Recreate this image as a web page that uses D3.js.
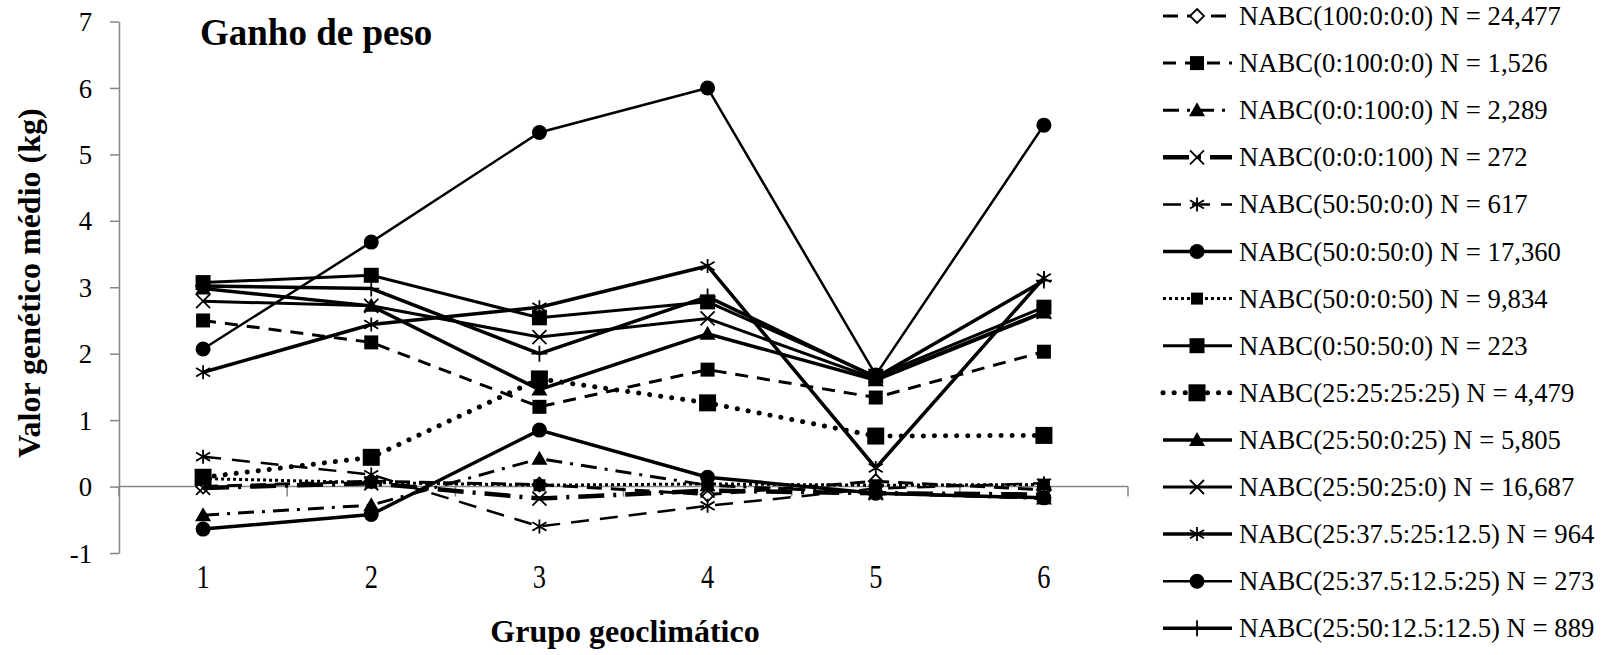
<!DOCTYPE html>
<html>
<head>
<meta charset="utf-8">
<script src="https://cdn.jsdelivr.net/npm/d3@7"></script>
<style>
  body { margin: 0; background: #fff; }
  svg text { font-family: "Liberation Serif", "Times New Roman", serif !important; fill: #000; }
</style>
</head>
<body>
<div id="container"></div>
<script>
// categories (grupo geoclimático)
const categories = ['1', '2', '3', '4', '5', '6'];
const yTicks = [-1, 0, 1, 2, 3, 4, 5, 6, 7];

const seriesNames = [
  'NABC(100:0:0:0) N = 24,477',
  'NABC(0:100:0:0) N = 1,526',
  'NABC(0:0:100:0) N = 2,289',
  'NABC(0:0:0:100) N = 272',
  'NABC(50:50:0:0) N = 617',
  'NABC(50:0:50:0) N = 17,360',
  'NABC(50:0:0:50) N = 9,834',
  'NABC(0:50:50:0) N = 223',
  'NABC(25:25:25:25) N = 4,479',
  'NABC(25:50:0:25) N = 5,805',
  'NABC(25:50:25:0) N = 16,687',
  'NABC(25:37.5:25:12.5) N = 964',
  'NABC(25:37.5:12.5:25) N = 273',
  'NABC(25:50:12.5:12.5) N = 889'
];

const v100_0_0_0 = [0.0, 0.08, 0.03, -0.12, 0.08, -0.05];
const v0_100_0_0 = [2.5, 2.17, 1.2, 1.76, 1.34, 2.03];
const v0_0_100_0 = [-0.43, -0.28, 0.42, 0.02, -0.1, -0.18];
const v0_0_0_100 = [-0.02, 0.05, -0.18, -0.06, -0.1, -0.12];
const v50_50_0_0 = [0.45, 0.18, -0.6, -0.29, -0.03, 0.05];
const v50_0_50_0 = [-0.64, -0.42, 0.85, 0.14, -0.1, -0.17];
const v50_0_0_50 = [0.12, 0.06, 0.02, 0.04, 0.02, 0.03];
const v0_50_50_0 = [3.07, 3.18, 2.54, 2.78, 1.66, 2.7];
const v25_25_25_25 = [0.14, 0.44, 1.62, 1.26, 0.76, 0.77];
const v25_50_0_25 = [2.98, 2.72, 1.46, 2.3, 1.6, 2.62];
const v25_50_25_0 = [2.79, 2.72, 2.25, 2.53, 1.62, 2.63];
const v25_375_25_125 = [1.72, 2.44, 2.7, 3.32, 0.28, 3.14];
const v25_375_125_25 = [2.07, 3.68, 5.33, 6.0, 1.68, 5.44];
const v25_50_125_125 = [3.02, 2.98, 2.0, 2.86, 1.64, 3.1];

const seriesValues = [
  v100_0_0_0, v0_100_0_0, v0_0_100_0, v0_0_0_100, v50_50_0_0, v50_0_50_0, v50_0_0_50,
  v0_50_50_0, v25_25_25_25, v25_50_0_25, v25_50_25_0, v25_375_25_125, v25_375_125_25, v25_50_125_125
];

// line / marker look of each series (same order)
const styles = [
  { dash: '15,9', w: 3, marker: 'diamond', s: 7, cap: 'butt' },
  { dash: '13,9', w: 3, marker: 'square', s: 7, cap: 'butt' },
  { dash: '16,8,3,8', w: 3, marker: 'triangle', s: 8, cap: 'butt' },
  { dash: '26,9,3,9', w: 4.5, marker: 'x', s: 7, cap: 'butt' },
  { dash: '18,11', w: 2.5, marker: 'asterisk', s: 7, cap: 'butt' },
  { dash: null, w: 3.5, marker: 'circle', s: 7.5, cap: 'butt' },
  { dash: '3,3', w: 3, marker: 'square', s: 6, cap: 'butt' },
  { dash: null, w: 3, marker: 'square', s: 7.5, cap: 'butt' },
  { dash: '0.1,11', w: 5, marker: 'square', s: 8.5, cap: 'round' },
  { dash: null, w: 3.5, marker: 'triangle', s: 8, cap: 'butt' },
  { dash: null, w: 3, marker: 'x', s: 7, cap: 'butt' },
  { dash: null, w: 3.5, marker: 'asterisk', s: 7, cap: 'butt' },
  { dash: null, w: 2.5, marker: 'circle', s: 7.5, cap: 'butt' },
  { dash: null, w: 3.5, marker: 'plus', s: 8, cap: 'butt' }
];

const width = 1606;
const height = 655;
const axisColor = '#868686';
const serif = '"Liberation Serif", "Times New Roman", serif';

const svg = d3.select('#container')
              .append('svg')
              .attr('width', width)
              .attr('height', height)
              .style('font-family', serif);

const x = d3.scaleBand()
            .domain(categories)
            .range([119, 1128]);
const y = d3.scaleLinear()
            .domain([-1, 7])
            .range([553, 21.5]);
const cx = c => x(c) + x.bandwidth() / 2;

// y axis
const yAxis = svg.append('g')
                 .attr('transform', 'translate(119,0)')
                 .call(d3.axisLeft(y).tickValues(yTicks).tickFormat(d => String(d))
                         .tickSize(9).tickSizeOuter(0).tickPadding(18));
yAxis.attr('font-family', null);
yAxis.select('.domain').attr('stroke', axisColor).attr('stroke-width', 1.5);
yAxis.selectAll('.tick line').attr('stroke', axisColor).attr('stroke-width', 1.5);
yAxis.selectAll('.tick text')
     .style('font-family', serif)
     .style('font-size', '26.7px')
     .attr('dy', '0.34em');

// x axis at zero, ticks between categories
svg.append('line')
   .attr('x1', x.range()[0]).attr('x2', x.range()[1])
   .attr('y1', y(0)).attr('y2', y(0))
   .attr('stroke', axisColor).attr('stroke-width', 1.5);
const edges = categories.map(c => x(c)).concat([x.range()[1]]);
svg.selectAll('.xtick')
   .data(edges)
   .enter()
   .append('line')
   .attr('class', 'xtick')
   .attr('x1', d => d).attr('x2', d => d)
   .attr('y1', y(0)).attr('y2', y(0) + 10)
   .attr('stroke', axisColor).attr('stroke-width', 1.5);

svg.selectAll('.xlabel')
   .data(categories)
   .enter()
   .append('text')
   .attr('class', 'xlabel')
   .attr('transform', d => 'translate(' + cx(d) + ',588) scale(0.8,1)')
   .attr('text-anchor', 'middle')
   .style('font-size', '33px')
   .text(d => d);

// titles
svg.append('text')
   .attr('x', 200).attr('y', 45)
   .style('font-size', '37px')
   .style('font-weight', 'bold')
   .text('Ganho de peso');

svg.append('text')
   .attr('transform', 'translate(625,642)')
   .attr('text-anchor', 'middle')
   .style('font-size', '32px')
   .style('font-weight', 'bold')
   .text('Grupo geoclimático');

svg.append('text')
   .attr('transform', 'translate(40,283) rotate(-90)')
   .attr('text-anchor', 'middle')
   .style('font-size', '32px')
   .style('font-weight', 'bold')
   .text('Valor genético médio (kg)');

function markerPath(type, s) {
  switch (type) {
    case 'square':
      return `M${-s},${-s}H${s}V${s}H${-s}Z`;
    case 'circle':
      return `M${s},0A${s},${s} 0 1,1 ${-s},0A${s},${s} 0 1,1 ${s},0Z`;
    case 'triangle':
      return `M0,${-s}L${s},${s * 0.75}L${-s},${s * 0.75}Z`;
    case 'diamond':
      return `M0,${-s}L${s},0L0,${s}L${-s},0Z`;
    case 'x':
      return `M${-s},${-s}L${s},${s}M${s},${-s}L${-s},${s}`;
    case 'plus':
      return `M0,${-s}V${s}M${-s},0H${s}`;
    case 'asterisk':
      return `M${-s},${-s * 0.6}L${s},${s * 0.6}M${s},${-s * 0.6}L${-s},${s * 0.6}M0,${-s}V${s}`;
  }
}
const filled = t => t === 'square' || t === 'circle' || t === 'triangle';

function drawMarker(g, type, s, px, py) {
  g.append('path')
   .attr('d', markerPath(type, s))
   .attr('transform', 'translate(' + px + ',' + py + ')')
   .attr('fill', type === 'diamond' ? '#fff' : (filled(type) ? '#000' : 'none'))
   .attr('stroke', '#000')
   .attr('stroke-width', filled(type) ? 0 : 1.8);
}

const line = d3.line()
               .x(d => cx(d.cat))
               .y(d => y(d.value));

const plot = svg.append('g');
seriesValues.forEach((vals, i) => {
  const st = styles[i];
  const pts = categories.map((c, j) => ({ cat: c, value: vals[j] }));
  plot.append('path')
      .datum(pts)
      .attr('d', line)
      .attr('fill', 'none')
      .attr('stroke', '#000')
      .attr('stroke-width', st.w)
      .attr('stroke-linecap', st.cap)
      .attr('stroke-dasharray', st.dash);
  const mg = plot.append('g');
  pts.forEach(p => drawMarker(mg, st.marker, st.s, cx(p.cat), y(p.value)));
});

// legend
const legend = svg.append('g');
seriesNames.forEach((name, i) => {
  const st = styles[i];
  const ly = 16 + i * 47.1;
  legend.append('line')
        .attr('x1', 1163).attr('x2', 1232)
        .attr('y1', ly).attr('y2', ly)
        .attr('stroke', '#000')
        .attr('stroke-width', st.w)
        .attr('stroke-linecap', st.cap)
        .attr('stroke-dasharray', st.dash);
  drawMarker(legend, st.marker, st.s, 1197, ly);
  legend.append('text')
        .attr('x', 1239).attr('y', ly + 9)
        .style('font-size', '26.7px')
        .text(name);
});
</script>
</body>
</html>
